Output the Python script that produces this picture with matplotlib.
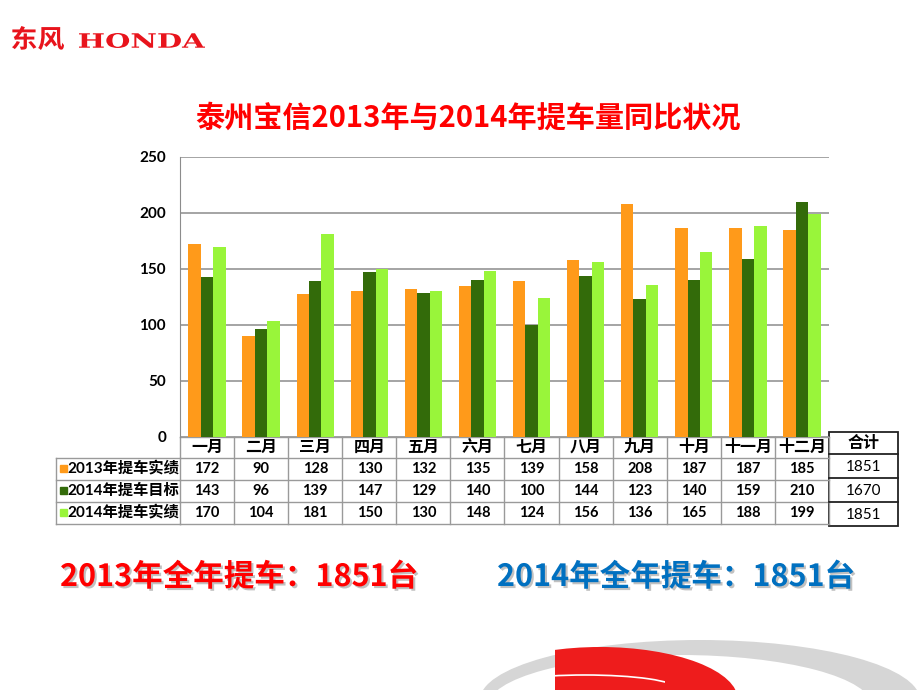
import matplotlib
matplotlib.use("Agg")
import numpy as np
import matplotlib.pyplot as plt
import matplotlib.transforms as mtransforms
import matplotlib.patheffects as pe
from matplotlib.patches import Ellipse, PathPatch, Rectangle
from matplotlib.textpath import TextPath
from matplotlib.font_manager import FontProperties

plt.rcParams['font.family'] = ['Lato', 'Noto Sans CJK SC', 'DejaVu Sans']

# data
months = ['一月', '二月', '三月', '四月', '五月', '六月',
          '七月', '八月', '九月', '十月', '十一月', '十二月']
series_names = ['2013年提车实绩', '2014年提车目标', '2014年提车实绩']
actual_2013 = [172, 90, 128, 130, 132, 135, 139, 158, 208, 187, 187, 185]
target_2014 = [143, 96, 139, 147, 129, 140, 100, 144, 123, 140, 159, 210]
actual_2014 = [170, 104, 181, 150, 130, 148, 124, 156, 136, 165, 188, 199]
totals = [1851, 1670, 1851]
total_label = '合计'
yticks = [0, 50, 100, 150, 200, 250]
title = '泰州宝信2013年与2014年提车量同比状况'
summary_2013 = '2013年全年提车：1851台'
summary_2014 = '2014年全年提车：1851台'

colors = ['#FF9A1A', '#336B0A', '#99F53A']
series = [actual_2013, target_2014, actual_2014]

W, H = 920, 690
fig = plt.figure(figsize=(W / 100, H / 100), dpi=100)

# overlay in pixel coordinates for decoration and the data table
ov = fig.add_axes([0, 0, 1, 1])
ov.set_xlim(0, W)
ov.set_ylim(H, 0)
ov.axis('off')

# chart axes
x0, x1, ytop, ybot = 180, 829, 157, 437
ax = fig.add_axes([x0 / W, 1 - ybot / H, (x1 - x0) / W, (ybot - ytop) / H])
ax.patch.set_alpha(0)
x = np.arange(len(months))
bw = 0.23
for k, (vals, c) in enumerate(zip(series, colors)):
    ax.bar(x + (k - 1) * bw, vals, bw, color=c, zorder=3)
ax.set_xlim(-0.5, len(months) - 0.5)
ax.set_ylim(0, 250)
ax.set_yticks(yticks)
ax.set_yticklabels([str(v) for v in yticks], fontsize=11, fontweight='bold')
ax.set_xticks([])
ax.grid(axis='y', color='#8c8c8c', linewidth=1.1, zorder=0)
for s in ['top', 'right', 'bottom']:
    ax.spines[s].set_visible(False)
ax.spines['left'].set_color('#8c8c8c')
ax.tick_params(axis='y', length=0, pad=10)

# table below the chart (x in category units, y in pixels)
tr = mtransforms.blended_transform_factory(ax.transData, ov.transData)
rows_y = [437, 458, 480, 502, 524]
gray = '#9a9a9a'
n = len(months)
for yy in rows_y:
    ov.plot([-0.5, n - 0.5], [yy, yy], color=gray, lw=1, transform=tr, clip_on=False)
for i in range(n + 1):
    ov.plot([i - 0.5, i - 0.5], [rows_y[0], rows_y[-1]], color=gray, lw=1,
            transform=tr, clip_on=False)
# legend column
lx0 = 56
for yy in rows_y[1:]:
    ov.plot([lx0, x0], [yy, yy], color=gray, lw=1)
ov.plot([lx0, lx0], [rows_y[1], rows_y[-1]], color=gray, lw=1)

for i, m in enumerate(months):
    ov.text(i, (rows_y[0] + rows_y[1]) / 2, m, transform=tr, ha='center',
            va='center', fontsize=11.5, fontweight='bold')
for r, vals in enumerate(series):
    yc = (rows_y[r + 1] + rows_y[r + 2]) / 2
    for i, v in enumerate(vals):
        ov.text(i, yc, str(v), transform=tr, ha='center', va='center',
                fontsize=10.5, fontweight='bold')
    ov.add_patch(Rectangle((60, yc - 4), 7, 7, color=colors[r]))
    ov.text(67, yc, series_names[r], ha='left', va='center',
            fontsize=11, fontweight='bold')

# totals box
tx0, tx1 = 829, 898
ty = [432, 454, 478, 502, 526]
ov.add_patch(Rectangle((tx0, ty[0]), tx1 - tx0, ty[-1] - ty[0], fill=False,
                       edgecolor='#222222', lw=1.3))
for yy in ty[1:-1]:
    ov.plot([tx0, tx1], [yy, yy], color='#222222', lw=1.3)
ov.text((tx0 + tx1) / 2, (ty[0] + ty[1]) / 2, total_label, ha='center',
        va='center', fontsize=11.5, fontweight='bold')
for r, v in enumerate(totals):
    ov.text((tx0 + tx1) / 2, (ty[r + 1] + ty[r + 2]) / 2 + 1, str(v),
            ha='center', va='center', fontsize=11)

# title
ov.text(468, 118, title, ha='center', va='center', color='#FF0000',
        fontsize=21, fontweight='bold', family=['Noto Sans CJK SC'])

# summary lines
shadow = [pe.withSimplePatchShadow(offset=(1.5, -1.5), shadow_rgbFace='#999999', alpha=0.6)]
ov.text(60, 577, summary_2013, ha='left', va='center', color='#FF0000',
        fontsize=22, fontweight='heavy', family=['Noto Sans CJK SC'],
        path_effects=shadow)
ov.text(497, 577, summary_2014, ha='left', va='center', color='#0070C0',
        fontsize=22, fontweight='heavy', family=['Noto Sans CJK SC'],
        path_effects=shadow)


# logo, fitted into pixel boxes
def fitted_text(s, box, prop, color, skew=0):
    bx0, by0, bx1, by1 = box
    tp = TextPath((0, 0), s, size=1, prop=prop)
    bb = tp.get_extents()
    t = (mtransforms.Affine2D().translate(-bb.x0, -bb.y0)
         .scale((bx1 - bx0) / bb.width, -(by1 - by0) / bb.height)
         .skew_deg(skew, 0).translate(bx0, by1))
    ov.add_patch(PathPatch(tp, transform=t + ov.transData, color=color, lw=0))


fitted_text('东风', (12, 26, 64, 50),
            FontProperties(family='Noto Sans CJK SC', weight='bold'), '#E8141C')
fitted_text('HONDA', (79, 33, 205, 48),
            FontProperties(family='DejaVu Serif', weight='bold'), '#E8141C')

# swoosh in the bottom right corner
ov.add_patch(Ellipse((700, 700), 440, 120, color='#d6d6d6', lw=0))
ov.add_patch(Ellipse((680, 706), 384, 102, color='white', lw=0))
red = Ellipse((600, 700), 276, 106, color='#EE1C1C', lw=0)
ov.add_patch(red)
red.set_clip_path(Rectangle((555, 600), 400, 100, transform=ov.transData))
arc = Ellipse((585, 688), 180, 26, fill=False, edgecolor='white', lw=1.2)
ov.add_patch(arc)
arc.set_clip_path(Rectangle((555, 600), 110, 88, transform=ov.transData))

fig.savefig('out.png', dpi=100)
